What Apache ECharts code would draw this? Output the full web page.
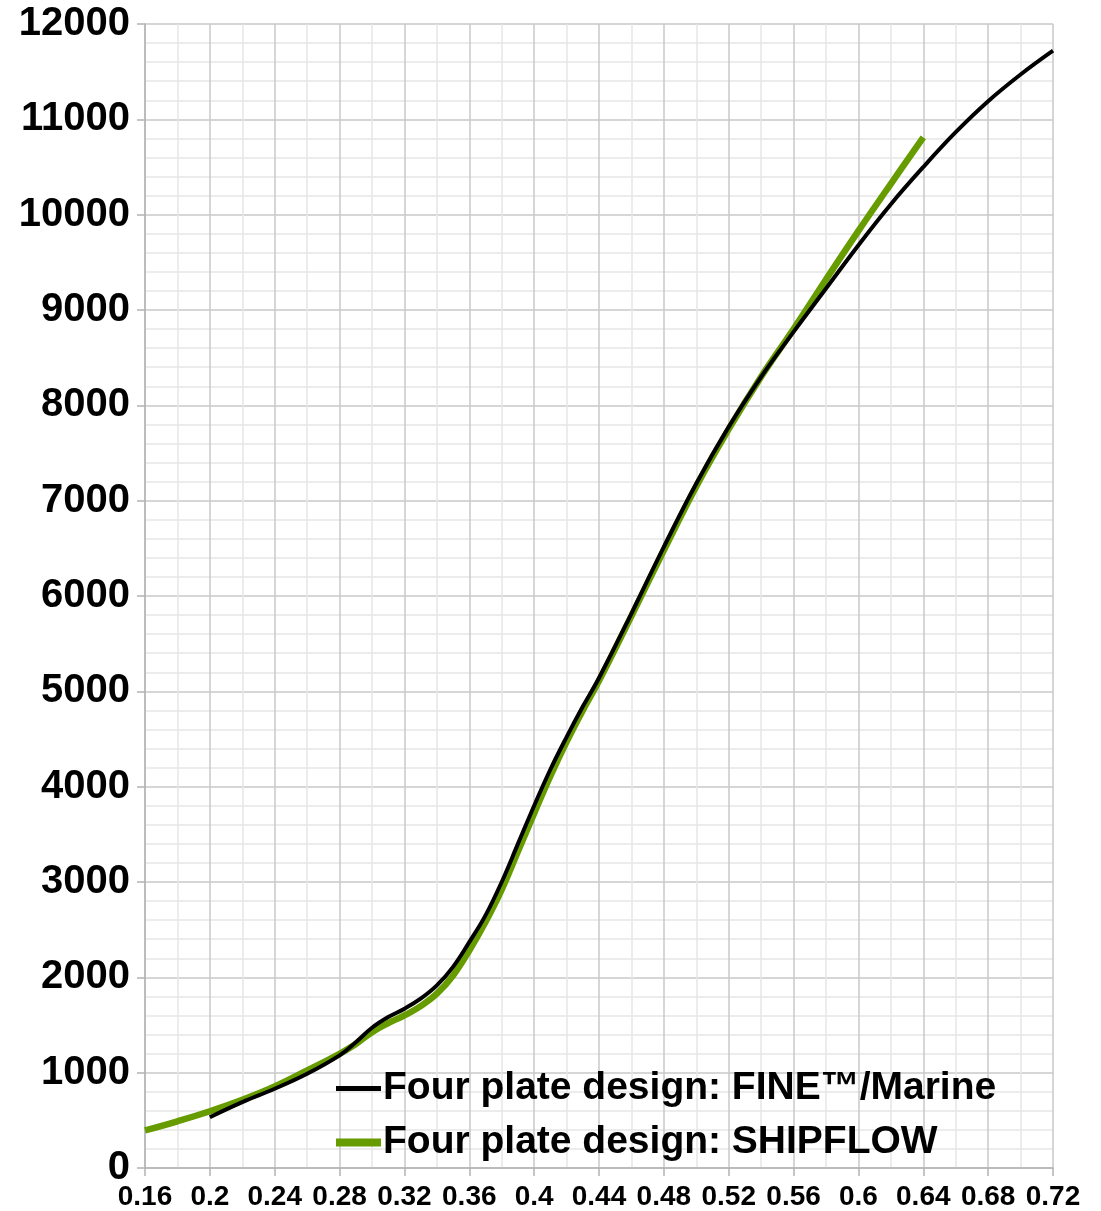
<!DOCTYPE html>
<html>
<head>
<meta charset="utf-8">
<script src="https://cdn.jsdelivr.net/npm/echarts@6/dist/echarts.min.js"></script>
<style>
  html, body { margin: 0; padding: 0; background: #ffffff; }
  #chart { width: 1101px; height: 1211px; }
</style>
</head>
<body>
<div id="chart"></div>
<script>
// Thrust / speed data for the four plate design, two solvers
const fineSpeed = [0.20, 0.22, 0.24, 0.26, 0.28, 0.29, 0.30, 0.31, 0.32, 0.33, 0.34, 0.35, 0.36, 0.37, 0.38, 0.39, 0.40, 0.41, 0.42, 0.43, 0.44, 0.46, 0.48, 0.50, 0.52, 0.54, 0.56, 0.58, 0.60, 0.62, 0.64, 0.66, 0.68, 0.70, 0.72];
const fineValues = [533, 691, 831, 988, 1181, 1320, 1471, 1583, 1671, 1776, 1915, 2110, 2370, 2650, 3000, 3400, 3800, 4180, 4520, 4840, 5140, 5816, 6515, 7180, 7774, 8299, 8771, 9226, 9680, 10110, 10500, 10865, 11190, 11470, 11720];

const shipSpeed = [0.16, 0.18, 0.20, 0.22, 0.24, 0.26, 0.28, 0.29, 0.30, 0.31, 0.32, 0.33, 0.34, 0.35, 0.36, 0.37, 0.38, 0.39, 0.40, 0.41, 0.42, 0.43, 0.44, 0.46, 0.48, 0.50, 0.52, 0.54, 0.56, 0.58, 0.60, 0.62, 0.64];
const shipValues = [394, 490, 595, 715, 855, 1023, 1198, 1300, 1425, 1520, 1600, 1698, 1828, 2020, 2282, 2580, 2920, 3320, 3720, 4110, 4470, 4800, 5110, 5790, 6480, 7150, 7750, 8300, 8800, 9320, 9830, 10324, 10811];

const seriesNames = ['Four plate design: FINE\u2122/Marine', 'Four plate design: SHIPFLOW'];

const xMin = 0.16, xMax = 0.72, xStep = 0.04;
const yMin = 0, yMax = 12000, yStep = 1000;

const fineColor = '#000000';
const shipColor = '#669c00';

const pairs = (xs, ys) => xs.map((x, i) => [x, ys[i]]);

const chart = echarts.init(document.getElementById('chart'), null, { renderer: 'canvas' });

const fontFamily = '"Liberation Sans", Arial, sans-serif';

chart.setOption({
  backgroundColor: '#ffffff',
  animation: false,
  grid: { left: 145, right: 48, top: 24, bottom: 43, containLabel: false },
  legend: {
    orient: 'vertical',
    left: 331,
    top: 1064,
    itemWidth: 45,
    itemHeight: 14,
    itemGap: 15,
    symbolKeepAspect: true,
    data: [
      { name: seriesNames[0], icon: 'path://M0,0L45,0L45,5L0,5Z', itemStyle: { color: fineColor } },
      { name: seriesNames[1], icon: 'path://M0,0L45,0L45,8L0,8Z', itemStyle: { color: shipColor } }
    ],
    textStyle: { fontFamily, fontSize: 39, fontWeight: 'bold', color: '#000000', padding: [0, 0, 0, -3] }
  },
  xAxis: {
    type: 'value',
    min: xMin, max: xMax, interval: xStep,
    axisLine: { show: true, lineStyle: { color: '#b3b3b3', width: 1.5 } },
    axisTick: { show: true, length: 8, lineStyle: { color: '#b3b3b3', width: 1.5 } },
    axisLabel: {
      margin: 15,
      fontFamily, fontSize: 28, fontWeight: 'bold', color: '#000000',
      formatter: v => String(parseFloat(v.toFixed(2)))
    },
    splitLine: { show: true, lineStyle: { color: '#c8c8c8', width: 1.5 } },
    minorTick: { show: false, splitNumber: 2 },
    minorSplitLine: { show: true, lineStyle: { color: '#e6e6e6', width: 1.5 } }
  },
  yAxis: {
    type: 'value',
    min: yMin, max: yMax, interval: yStep,
    axisLine: { show: true, lineStyle: { color: '#b3b3b3', width: 1.5 } },
    axisTick: { show: true, length: 8, lineStyle: { color: '#b3b3b3', width: 1.5 } },
    axisLabel: {
      margin: 15,
      fontFamily, fontSize: 40, fontWeight: 'bold', color: '#000000',
      formatter: v => String(Math.round(v))
    },
    splitLine: { show: true, lineStyle: { color: '#c8c8c8', width: 1.5 } },
    minorTick: { show: false, splitNumber: 5 },
    minorSplitLine: { show: true, lineStyle: { color: '#e6e6e6', width: 1.5 } }
  },
  series: [
    {
      name: seriesNames[1],
      type: 'line',
      z: 2,
      data: pairs(shipSpeed, shipValues),
      symbol: 'none',
      smooth: 0.4,
      lineStyle: { color: shipColor, width: 6.5, cap: 'butt' },
      itemStyle: { color: shipColor }
    },
    {
      name: seriesNames[0],
      type: 'line',
      z: 3,
      data: pairs(fineSpeed, fineValues),
      symbol: 'none',
      smooth: 0.4,
      lineStyle: { color: fineColor, width: 4, cap: 'butt' },
      itemStyle: { color: fineColor }
    }
  ]
});
</script>
</body>
</html>
